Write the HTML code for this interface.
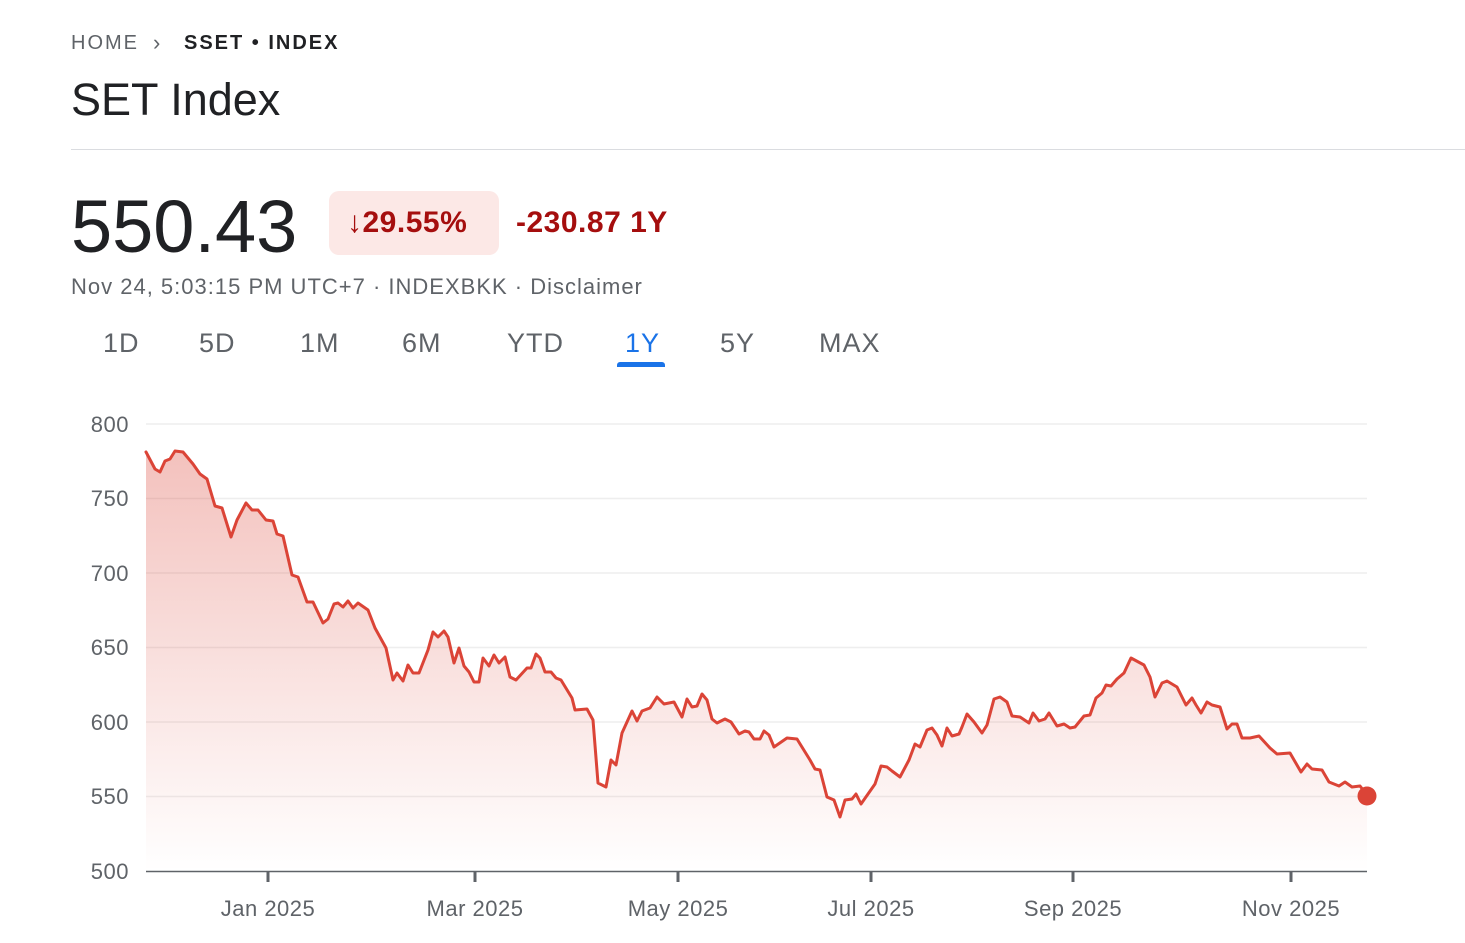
<!DOCTYPE html>
<html><head><meta charset="utf-8"><style>
body{margin:0;width:1465px;height:943px;background:#fff;font-family:"Liberation Sans",Arial,sans-serif;position:relative;overflow:hidden}
.a{position:absolute;white-space:nowrap}
</style></head><body>
<div class="a" style="left:71px;top:32px;font-size:20px;letter-spacing:2px;color:#5f6368">HOME</div>
<div class="a" style="left:153px;top:30px;font-size:22px;color:#5f6368">&#x203A;</div>
<div class="a" style="left:184px;top:32px;font-size:20px;letter-spacing:2px;color:#202124;font-weight:bold">SSET • INDEX</div>
<div class="a" style="left:71px;top:74px;font-size:45px;color:#202124">SET Index</div>
<div class="a" style="left:71px;top:149px;width:1394px;height:1px;background:#dadce0"></div>
<div class="a" style="left:71px;top:184px;font-size:74px;color:#202124">550.43</div>
<div class="a" style="left:329px;top:191px;width:170px;height:64px;background:#fce8e6;border-radius:10px"></div>
<div class="a" style="left:347px;top:206px;font-size:30px;color:#a50e0e;font-weight:bold;letter-spacing:0.5px">↓29.55%</div>
<div class="a" style="left:516px;top:206px;font-size:30px;color:#a50e0e;font-weight:bold;letter-spacing:0.5px">-230.87 1Y</div>
<div class="a" style="left:71px;top:274px;font-size:22px;letter-spacing:1px;color:#5f6368">Nov 24, 5:03:15 PM UTC+7 · INDEXBKK · Disclaimer</div>
<div class="a" style="top:328px;left:0;font-size:27px;letter-spacing:1px;color:#5f6368">
<span class="a" style="left:103px">1D</span><span class="a" style="left:199px">5D</span><span class="a" style="left:300px">1M</span><span class="a" style="left:402px">6M</span><span class="a" style="left:507px">YTD</span><span class="a" style="left:625px;color:#1a73e8">1Y</span><span class="a" style="left:720px">5Y</span><span class="a" style="left:819px">MAX</span></div>
<div class="a" style="left:617px;top:362px;width:48px;height:5px;background:#1a73e8;border-radius:3px 3px 0 0"></div>
<svg class="a" style="left:0;top:0" width="1465" height="943">
<defs><linearGradient id="g" x1="0" y1="0" x2="0" y2="1"><stop offset="0" stop-color="#db4437" stop-opacity="0.33"/><stop offset="1" stop-color="#db4437" stop-opacity="0"/></linearGradient></defs>
<g stroke="#eeeeee" stroke-width="1.5">
<line x1="146" x2="1367" y1="424" y2="424"/><line x1="146" x2="1367" y1="498.5" y2="498.5"/><line x1="146" x2="1367" y1="573" y2="573"/><line x1="146" x2="1367" y1="647.5" y2="647.5"/><line x1="146" x2="1367" y1="722" y2="722"/><line x1="146" x2="1367" y1="796.5" y2="796.5"/></g>
<g font-size="22" fill="#5f6368" text-anchor="end" letter-spacing="0.5"><text x="129" y="432">800</text><text x="129" y="506">750</text><text x="129" y="581">700</text><text x="129" y="655">650</text><text x="129" y="730">600</text><text x="129" y="804">550</text><text x="129" y="879">500</text></g>
<path fill="url(#g)" d="M146,871 L146,452 155,469 160,472 165,461 170,459 175,451 183,452 193,464 200,474 207,479 215,506 222,508 231,537 237,520 246,503 252,510 258,510 266,520 273,521 277,534 283,536 292,575 298,577 307,602 313,602 323,623 328,619 334,604 338,603 343,607 348,601 353,608 358,603 368,610 375,628 386,648 393,680 397,673 403,681 408,665 413,673 419,673 428,650 433,632 438,637 444,631 448,637 454,663 459,648 464,666 469,672 474,682 479,682 483,658 489,666 494,655 499,663 505,657 510,677 516,680 527,668 531,668 536,654 540,658 545,672 551,672 556,678 561,680 572,698 575,710 587,709 593,720 598,783 606,787 611,760 616,765 622,733 627,722 632,711 637,721 642,711 650,708 657,697 664,704 674,702 682,717 687,699 692,707 697,706 702,694 707,700 712,719 717,723 725,719 731,722 739,734 745,731 749,732 754,739 760,739 764,731 769,735 774,747 787,738 797,739 810,760 815,769 820,770 827,797 834,800 840,817 845,800 852,799 856,794 861,804 875,784 881,766 887,767 892,771 900,777 909,760 915,744 920,747 927,730 932,728 937,735 942,746 947,728 952,736 959,734 962,727 967,714 974,722 982,733 987,725 994,699 1000,697 1007,702 1012,716 1020,717 1029,723 1033,713 1039,721 1045,719 1049,713 1057,726 1064,724 1070,728 1075,727 1084,716 1090,715 1096,698 1102,693 1106,685 1111,686 1117,679 1124,673 1131,658 1144,665 1150,677 1155,697 1162,683 1167,681 1177,687 1186,705 1192,698 1196,705 1201,713 1207,702 1212,705 1220,707 1227,729 1232,724 1237,724 1242,738 1250,738 1259,736 1270,748 1277,754 1290,753 1301,772 1307,764 1312,769 1322,770 1329,782 1339,786 1345,782 1352,787 1360,786 1367,795 L1367,871 Z"/>
<path d="M146,452 L155,469 160,472 165,461 170,459 175,451 183,452 193,464 200,474 207,479 215,506 222,508 231,537 237,520 246,503 252,510 258,510 266,520 273,521 277,534 283,536 292,575 298,577 307,602 313,602 323,623 328,619 334,604 338,603 343,607 348,601 353,608 358,603 368,610 375,628 386,648 393,680 397,673 403,681 408,665 413,673 419,673 428,650 433,632 438,637 444,631 448,637 454,663 459,648 464,666 469,672 474,682 479,682 483,658 489,666 494,655 499,663 505,657 510,677 516,680 527,668 531,668 536,654 540,658 545,672 551,672 556,678 561,680 572,698 575,710 587,709 593,720 598,783 606,787 611,760 616,765 622,733 627,722 632,711 637,721 642,711 650,708 657,697 664,704 674,702 682,717 687,699 692,707 697,706 702,694 707,700 712,719 717,723 725,719 731,722 739,734 745,731 749,732 754,739 760,739 764,731 769,735 774,747 787,738 797,739 810,760 815,769 820,770 827,797 834,800 840,817 845,800 852,799 856,794 861,804 875,784 881,766 887,767 892,771 900,777 909,760 915,744 920,747 927,730 932,728 937,735 942,746 947,728 952,736 959,734 962,727 967,714 974,722 982,733 987,725 994,699 1000,697 1007,702 1012,716 1020,717 1029,723 1033,713 1039,721 1045,719 1049,713 1057,726 1064,724 1070,728 1075,727 1084,716 1090,715 1096,698 1102,693 1106,685 1111,686 1117,679 1124,673 1131,658 1144,665 1150,677 1155,697 1162,683 1167,681 1177,687 1186,705 1192,698 1196,705 1201,713 1207,702 1212,705 1220,707 1227,729 1232,724 1237,724 1242,738 1250,738 1259,736 1270,748 1277,754 1290,753 1301,772 1307,764 1312,769 1322,770 1329,782 1339,786 1345,782 1352,787 1360,786 1367,795" fill="none" stroke="#db4437" stroke-width="3" stroke-linejoin="round" stroke-linecap="round"/>
<line x1="146" x2="1367" y1="871.5" y2="871.5" stroke="#5f6368" stroke-width="1.5"/>
<g stroke="#5f6368" stroke-width="3"><line x1="268" x2="268" y1="871" y2="882"/><line x1="475" x2="475" y1="871" y2="882"/><line x1="678" x2="678" y1="871" y2="882"/><line x1="871" x2="871" y1="871" y2="882"/><line x1="1073" x2="1073" y1="871" y2="882"/><line x1="1291" x2="1291" y1="871" y2="882"/></g>
<g font-size="22" fill="#5f6368" text-anchor="middle" letter-spacing="0.5"><text x="268" y="916">Jan 2025</text><text x="475" y="916">Mar 2025</text><text x="678" y="916">May 2025</text><text x="871" y="916">Jul 2025</text><text x="1073" y="916">Sep 2025</text><text x="1291" y="916">Nov 2025</text></g>
<circle cx="1367" cy="796" r="9.5" fill="#db4437"/>
</svg>
</body></html>
